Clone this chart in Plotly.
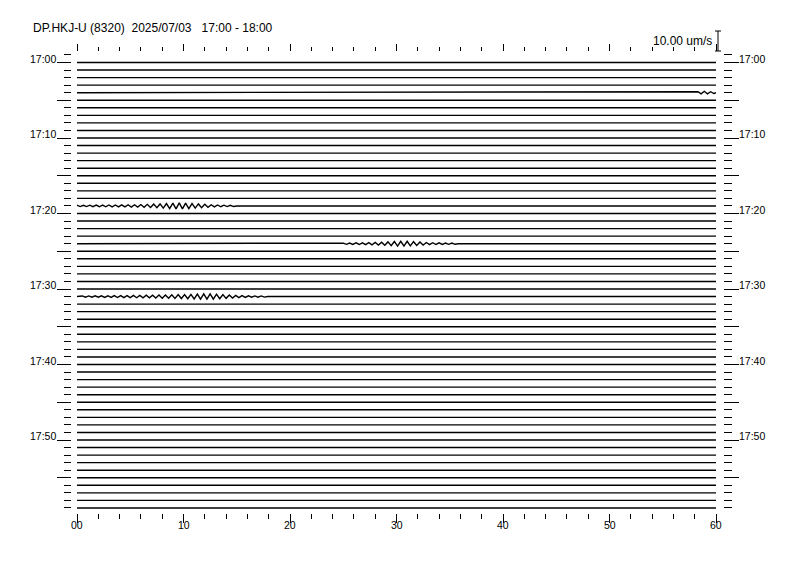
import plotly.graph_objects as go

# ---------------- data ----------------
STATION = "DP.HKJ-U (8320)"
DATE = "2025/07/03"
PERIOD = "17:00 - 18:00"
N_MINUTES = 60                      # one trace per minute
TRACE_SECONDS = [0, 60]             # each trace spans 0..60 s
X_TICK_VALUES = [0, 10, 20, 30, 40, 50, 60]
X_TICK_LABELS = ["00", "10", "20", "30", "40", "50", "60"]
LABEL_MINUTES = [0, 10, 20, 30, 40, 50]
LABEL_TEXTS = ["17:00", "17:10", "17:20", "17:30", "17:40", "17:50"]
SCALE_VALUE = 10.0                  # um/s
SCALE_TEXT = "10.00 um/s"
SAMPLE_DT = 0.3                     # s between read-off half-cycle peaks

# wave packets (um/s, alternating peaks)
WAVE_MINUTES = [4, 19, 24, 31]
WAVE_STARTS = [58.3, 0.0, 25.0, 0.5]
WAVE_04 = [0.5, -0.6, 0.7, -0.6, 0.5, -0.4, 0.0]
WAVE_19 = [0.3, -0.3, 0.35, -0.3, 0.4, -0.35, 0.4, -0.4, 0.45, -0.4,
           0.5, -0.45, 0.5, -0.5, 0.55, -0.5, 0.6, -0.55, 0.6, -0.6,
           0.7, -0.7, 0.8, -0.8, 0.9, -0.9, 1.0, -1.1, 1.2, -1.3,
           1.4, -1.5, 1.5, -1.5, 1.4, -1.3, 1.2, -1.1, 1.0, -0.9,
           0.8, -0.7, 0.6, -0.5, 0.5, -0.4, 0.4, -0.3, 0.3, -0.3, 0.0]
WAVE_24 = [0.3, -0.3, 0.35, -0.35, 0.4, -0.4, 0.45, -0.5, 0.5, -0.55,
           0.6, -0.65, 0.7, -0.8, 0.9, -1.0, 1.1, -1.2, 1.2, -1.2,
           1.2, -1.1, 1.0, -0.9, 0.8, -0.7, 0.6, -0.5, 0.5, -0.4,
           0.4, -0.35, 0.3, -0.3, 0.3, -0.3, 0.0]
WAVE_31 = [0.3, -0.3, 0.3, -0.35, 0.35, -0.35, 0.4, -0.4, 0.4, -0.45,
           0.45, -0.5, 0.5, -0.5, 0.5, -0.55, 0.55, -0.6, 0.6, -0.6,
           0.65, -0.65, 0.7, -0.7, 0.75, -0.8, 0.8, -0.85, 0.9, -0.9,
           0.95, -1.0, 1.0, -1.1, 1.1, -1.2, 1.2, -1.3, 1.3, -1.3,
           1.3, -1.3, 1.2, -1.1, 1.0, -0.9, 0.8, -0.7, 0.6, -0.5,
           0.5, -0.4, 0.4, -0.35, 0.3, -0.3, 0.3, -0.3, 0.0]
WAVES = [WAVE_04, WAVE_19, WAVE_24, WAVE_31]

# ---------------- layout geometry (page px; the page body has an 8px margin) ----------------
OFF = 8
W, H = 796 - OFF, 574 - OFF
TOP_AXIS_PX, BOTTOM_AXIS_PX = 52, 513
LEFT_AXIS_PX, RIGHT_AXIS_PX = 71, 723
PLOT_X0, PLOT_X1 = 77, 716          # px of 0 s and 60 s
FIRST_TRACE_PX = 62.5
PX_PER_MIN = 7.55
PX_PER_UM = 2.0                     # 10 um/s -> 20 px
UM_TO_MIN = PX_PER_UM / PX_PER_MIN

ML = LEFT_AXIS_PX - OFF
MR = 796 - RIGHT_AXIS_PX
MT = TOP_AXIS_PX - OFF
MB = 574 - BOTTOM_AXIS_PX
PAPER_W = W - ML - MR
PAPER_H = H - MT - MB
y_top = (TOP_AXIS_PX - FIRST_TRACE_PX) / PX_PER_MIN
y_bot = (BOTTOM_AXIS_PX - FIRST_TRACE_PX) / PX_PER_MIN
Y_RANGE = [y_bot, y_top]


def px_to_paper_x(px):
    return (px - LEFT_AXIS_PX) / PAPER_W


def px_to_paper_y(py):
    return (BOTTOM_AXIS_PX - py) / PAPER_H


# ---------------- build traces ----------------
xs, ys = [], []
wave_lookup = dict(zip(WAVE_MINUTES, zip(WAVE_STARTS, WAVES)))
for m in range(N_MINUTES):
    if m in wave_lookup:
        t0, vals = wave_lookup[m]
        t = [t0 + i * SAMPLE_DT for i in range(len(vals))]
        pairs = sorted(zip([TRACE_SECONDS[0]] + t + [TRACE_SECONDS[1]],
                           [0.0] + vals + [0.0]))
        pairs = [(min(max(a, 0), 60), b) for a, b in pairs]
        xs += [p[0] for p in pairs] + [None]
        ys += [m - p[1] * UM_TO_MIN for p in pairs] + [None]
    else:
        xs += [TRACE_SECONDS[0], TRACE_SECONDS[1], None]
        ys += [m, m, None]

fig = go.Figure()
fig.add_trace(go.Scatter(x=xs, y=ys, mode="lines",
                         line=dict(color="black", width=1.4),
                         hoverinfo="skip", showlegend=False))
fig.add_trace(go.Scatter(x=[None], y=[None], xaxis="x2", yaxis="y2",
                         mode="lines", showlegend=False, hoverinfo="skip"))

FONT = "Liberation Sans, Arial, Helvetica, sans-serif"
xdom = [px_to_paper_x(PLOT_X0), px_to_paper_x(PLOT_X1)]
tick_style = dict(tickwidth=1, tickcolor="black")

fig.update_layout(
    width=W, height=H,
    margin=dict(l=ML, r=MR, t=MT, b=MB, pad=0),
    paper_bgcolor="white", plot_bgcolor="white",
    font=dict(family=FONT, size=11, color="black"),
    title=dict(text=f"{STATION}\u00a0\u00a0{DATE}\u00a0\u00a0\u00a0{PERIOD}",
               x=(33 - OFF) / W, xanchor="left", xref="container",
               y=1 - (28 - OFF) / H, yanchor="middle", yref="container",
               font=dict(family=FONT, size=12, color="black")),
    xaxis=dict(domain=xdom, range=[0, 60], anchor="y", side="bottom",
               tickmode="array", tickvals=X_TICK_VALUES,
               ticks="outside", ticklen=9, **tick_style,
               minor=dict(tickmode="linear", tick0=0, dtick=2, ticks="outside",
                          ticklen=5, showgrid=False, **tick_style),
               showticklabels=False, showgrid=False, zeroline=False, showline=False),
    xaxis2=dict(domain=xdom, range=[0, 60], overlaying="x", anchor="y", side="top",
                tickmode="array", tickvals=X_TICK_VALUES,
                ticks="outside", ticklen=7, **tick_style,
                minor=dict(tickmode="linear", tick0=0, dtick=2, ticks="outside",
                           ticklen=4, showgrid=False, **tick_style),
                showticklabels=False, showgrid=False, zeroline=False, showline=False),
    yaxis=dict(range=Y_RANGE, anchor="free", position=0, side="left",
               tickmode="linear", tick0=0, dtick=5,
               ticks="outside", ticklen=14, **tick_style,
               minor=dict(tickmode="linear", tick0=0, dtick=1, ticks="outside",
                          ticklen=7, showgrid=False, **tick_style),
               showticklabels=False, showgrid=False, zeroline=False, showline=False),
    yaxis2=dict(range=Y_RANGE, overlaying="y", anchor="free", position=1, side="right",
                tickmode="linear", tick0=0, dtick=5,
                ticks="outside", ticklen=15, **tick_style,
                minor=dict(tickmode="linear", tick0=0, dtick=1, ticks="outside",
                           ticklen=8, showgrid=False, **tick_style),
                showticklabels=False, showgrid=False, zeroline=False, showline=False),
)

# x tick labels (seconds)
for v, txt in zip(X_TICK_VALUES, X_TICK_LABELS):
    fig.add_annotation(text=txt, xref="x", yref="paper", x=v, y=px_to_paper_y(525),
                       xanchor="center", yanchor="middle", showarrow=False,
                       font=dict(family=FONT, size=10.5, color="black"))

# time labels on both sides
for m, txt in zip(LABEL_MINUTES, LABEL_TEXTS):
    fig.add_annotation(text=txt, xref="paper", yref="y", x=px_to_paper_x(58),
                       y=m, xanchor="right", yanchor="middle", yshift=4,
                       showarrow=False, font=dict(family=FONT, size=10.5, color="black"))
    fig.add_annotation(text=txt, xref="paper", yref="y", x=px_to_paper_x(737),
                       y=m, xanchor="left", yanchor="middle", yshift=4,
                       showarrow=False, font=dict(family=FONT, size=10.5, color="black"))

# amplitude scale bar
bar_px = SCALE_VALUE * PX_PER_UM
bar_x = 718
bar_bottom = 51
bx = px_to_paper_x(bar_x)
yb = px_to_paper_y(bar_bottom)
yt = px_to_paper_y(bar_bottom - bar_px)
cap = 3 / PAPER_W
line_style = dict(color="black", width=1)
fig.add_shape(type="line", xref="paper", yref="paper", x0=bx, x1=bx, y0=yb, y1=yt, line=line_style)
fig.add_shape(type="line", xref="paper", yref="paper", x0=bx - cap, x1=bx + cap, y0=yb, y1=yb, line=line_style)
fig.add_shape(type="line", xref="paper", yref="paper", x0=bx - cap, x1=bx + cap, y0=yt, y1=yt, line=line_style)
fig.add_annotation(text=SCALE_TEXT, xref="paper", yref="paper",
                   x=px_to_paper_x(714), y=px_to_paper_y(41),
                   xanchor="right", yanchor="middle", showarrow=False,
                   font=dict(family=FONT, size=12, color="black"))

fig.write_html("out.html")
